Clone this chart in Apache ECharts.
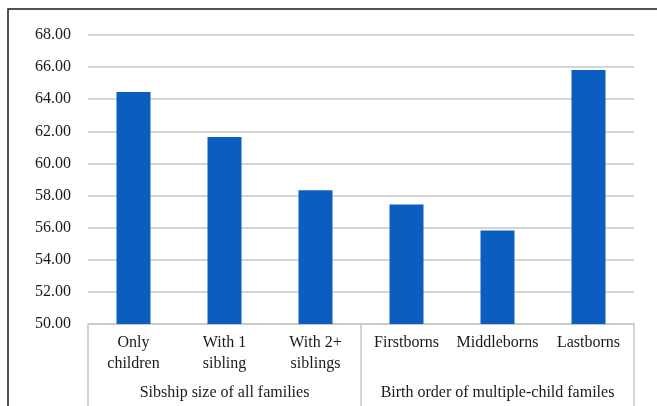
<!DOCTYPE html>
<html><head><meta charset="utf-8">
<script src="https://cdn.jsdelivr.net/npm/echarts@6/dist/echarts.min.js"></script>
<style>html,body{margin:0;padding:0;background:#fff}#c{width:657px;height:406px}</style>
</head><body><div id="c"></div>
<script>
const categories = ["Only\nchildren", "With 1\nsibling", "With 2+\nsiblings", "Firstborns", "Middleborns", "Lastborns"];
const groups = ["Sibship size of all families", "Birth order of multiple-child familes"];
const values = [64.45, 61.64, 58.33, 57.44, 55.82, 65.82];
const yMin = 50, yMax = 68, yStep = 2;

const font = "Liberation Serif";
const chart = echarts.init(document.getElementById('c'));
chart.setOption({
  animation: false,
  grid: { left: 88, right: 23, top: 35, bottom: 82 },
  graphic: [{
    type: 'rect', z: 100, silent: true,
    shape: { x: 8, y: 9, width: 800, height: 600 },
    style: { fill: 'none', stroke: '#1a1a1a', lineWidth: 1.5 }
  }],
  xAxis: [{
    type: 'category', data: categories, position: 'bottom',
    axisLine: { show: true, lineStyle: { color: '#c6c6c6', width: 1.5 } },
    axisTick: { show: false },
    axisLabel: { color: '#1a1a1a', fontFamily: font, fontSize: 16, lineHeight: 21, margin: 8, interval: 0 }
  }, {
    type: 'category', data: groups, position: 'bottom',
    axisLine: { show: false },
    axisTick: { show: true, length: 90, lineStyle: { color: '#c6c6c6', width: 1.5 } },
    axisLabel: { color: '#1a1a1a', fontFamily: font, fontSize: 16, lineHeight: 20, margin: 59, interval: 0 }
  }],
  yAxis: {
    type: 'value', min: yMin, max: yMax, interval: yStep,
    axisLine: { show: false }, axisTick: { show: false },
    splitLine: { lineStyle: { color: '#c6c6c6', width: 1.5 } },
    axisLabel: { color: '#1a1a1a', fontFamily: font, fontSize: 16, margin: 17,
      formatter: v => v.toFixed(2) }
  },
  series: [{
    type: 'bar', data: values, xAxisIndex: 0, barWidth: 34,
    itemStyle: { color: '#0b5ec0' }
  }]
});
</script></body></html>
